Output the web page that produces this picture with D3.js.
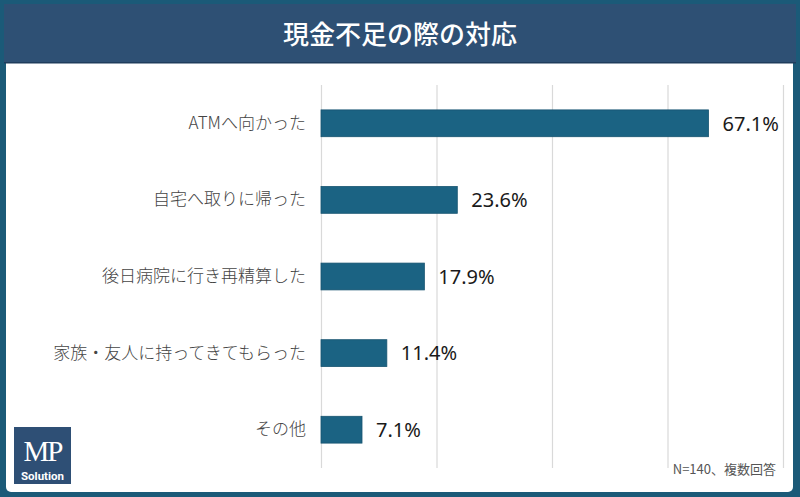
<!DOCTYPE html>
<html><head><meta charset="utf-8">
<script src="https://cdn.jsdelivr.net/npm/d3@7"></script>
<style>html,body{margin:0;padding:0;background:#fff;}svg{display:block;}</style>
</head><body>
<svg id="c" width="800" height="497"></svg>
<script>
const categories = ["ATMへ向かった","自宅へ取りに帰った","後日病院に行き再精算した","家族・友人に持ってきてもらった","その他"];
const values = [67.1, 23.6, 17.9, 11.4, 7.1];
const xTicks = [0, 20, 40, 60, 80];
const title = "現金不足の際の対応";
const note = "N=140、複数回答";

const svg = d3.select("#c");
const W = 800, H = 497;
const jp = "'Noto Sans CJK JP','Noto Sans',sans-serif";

// frame
svg.append("rect").attr("x",0).attr("y",0).attr("width",W).attr("height",H).attr("fill","#1b5a78");
svg.append("rect").attr("x",6).attr("y",6).attr("width",787).attr("height",486).attr("rx",5).attr("fill","#ffffff");
svg.append("rect").attr("x",4).attr("y",4).attr("width",792).attr("height",59).attr("fill","#2e5074");
svg.append("rect").attr("x",4).attr("y",62).attr("width",792).attr("height",1.5).attr("fill","#1f3d5c");
svg.append("text").attr("x",400).attr("y",44).attr("text-anchor","middle")
  .attr("font-family",jp).attr("font-weight",500).attr("font-size",26).attr("fill","#fff").text(title);

const x = d3.scaleLinear().domain([0,80]).range([321,783]);
const y = d3.scaleBand().domain(categories).range([85,468]).paddingInner(0.65).paddingOuter(0.325);

// gridlines
const grid = svg.append("g").attr("transform","translate(0,85)")
  .call(d3.axisBottom(x).tickValues(xTicks).tickSize(468-85).tickFormat(""));
grid.select(".domain").remove();
grid.selectAll(".tick line").attr("stroke","#d9d9d9").attr("stroke-width",1.2);

// bars
svg.append("g").selectAll("rect").data(values).join("rect")
  .attr("x",x(0)).attr("y",(d,i)=>y(categories[i]))
  .attr("width",d=>x(d)-x(0)).attr("height",y.bandwidth())
  .attr("fill","#1b6383").attr("stroke","#175470").attr("stroke-width",0.8);

// category labels
const yAxis = svg.append("g").attr("transform",`translate(${x(0)},0)`)
  .call(d3.axisLeft(y).tickSize(0).tickPadding(15));
yAxis.select(".domain").remove();
yAxis.selectAll("text").attr("font-family",jp).attr("font-size",17).attr("font-weight",300).attr("fill","#444");

// value labels
svg.append("g").selectAll("text").data(values).join("text")
  .attr("x",d=>x(d)+14).attr("y",(d,i)=>y(categories[i])+y.bandwidth()/2)
  .attr("dy","0.36em").attr("font-family","'Noto Sans',sans-serif").attr("font-weight",400)
  .attr("font-size",20).attr("fill","#1a1a1a").text(d=>d.toFixed(1)+"%");

// note
svg.append("text").attr("x",776).attr("y",474).attr("text-anchor","end")
  .attr("font-family",jp).attr("font-size",13).attr("fill","#555").text(note);

// logo
const lg = svg.append("g");
lg.append("rect").attr("x",14).attr("y",427).attr("width",57).attr("height",57).attr("fill","#2e4f75");
lg.append("text").attr("x",42.5).attr("y",461).attr("text-anchor","middle")
  .attr("font-family","'Liberation Serif','DejaVu Serif',serif").attr("font-size",29).attr("fill","#fff")
  .attr("letter-spacing",-2).text("MP");
lg.append("text").attr("x",42.5).attr("y",480).attr("text-anchor","middle")
  .attr("font-family","'Liberation Sans Narrow','Roboto','DejaVu Sans Condensed',sans-serif").attr("font-weight",700)
  .attr("font-size",11.5).attr("fill","#fff").text("Solution");
</script>
</body></html>
